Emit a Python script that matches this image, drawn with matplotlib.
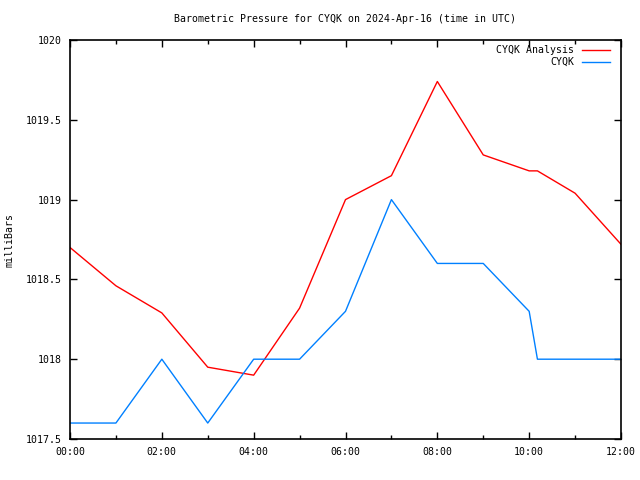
import matplotlib
matplotlib.use("Agg")
import matplotlib.pyplot as plt
from matplotlib.ticker import MultipleLocator, FuncFormatter

# hours after 00:00 UTC
analysis_hours = [0, 1, 2, 3, 4, 5, 6, 7, 8, 9, 10, 10.18, 11, 12]
analysis_mb = [1018.70, 1018.46, 1018.29, 1017.95, 1017.90, 1018.32, 1019.00,
               1019.15, 1019.74, 1019.28, 1019.18, 1019.18, 1019.04, 1018.72]

obs_hours = [0, 1, 2, 3, 4, 5, 6, 7, 8, 9, 10, 10.18, 12]
obs_mb = [1017.6, 1017.6, 1018.0, 1017.6, 1018.0, 1018.0, 1018.3,
          1019.0, 1018.6, 1018.6, 1018.3, 1018.0, 1018.0]

plt.rcParams['font.family'] = 'DejaVu Sans Mono'
plt.rcParams['font.size'] = 7.1

fig = plt.figure(figsize=(6.4, 4.8), dpi=100)
ax = fig.add_axes([70 / 640, 1 - 439 / 480, 551 / 640, 399 / 480])

ax.plot(analysis_hours, analysis_mb, color='#ff0000', lw=1)
ax.plot(obs_hours, obs_mb, color='#0080ff', lw=1)

ax.set_xlim(0, 12)
ax.set_ylim(1017.5, 1020)
ax.xaxis.set_major_locator(MultipleLocator(2))
ax.xaxis.set_minor_locator(MultipleLocator(1))
ax.xaxis.set_major_formatter(FuncFormatter(lambda v, p: "%02d:00" % int(round(v))))
ax.yaxis.set_major_locator(MultipleLocator(0.5))
ax.yaxis.set_major_formatter(FuncFormatter(lambda v, p: ("%g" % v)))
ax.tick_params(which='both', direction='in', top=True, right=True, width=1)
ax.tick_params(which='major', length=5, pad=6)
ax.tick_params(which='minor', length=3)
for s in ax.spines.values():
    s.set_linewidth(1.2)

# legend drawn like gnuplot: text right-aligned, then sample line
for i, (lab, col) in enumerate([("CYQK Analysis", '#ff0000'), ("CYQK", '#0080ff')]):
    y = 1 - (10 + 12 * i) / 399
    ax.text((574 - 70) / 551, y, lab, transform=ax.transAxes, ha='right', va='center')
    ax.plot([(582 - 70) / 551, (610 - 70) / 551], [y, y], transform=ax.transAxes,
            color=col, lw=1)

fig.text(345 / 640, 1 - 19 / 480, "Barometric Pressure for CYQK on 2024-Apr-16 (time in UTC)",
         ha='center', va='center')
fig.text(10 / 640, 1 - 240 / 480, "milliBars", rotation=90, ha='center', va='center')

fig.savefig("out.png", dpi=100)
